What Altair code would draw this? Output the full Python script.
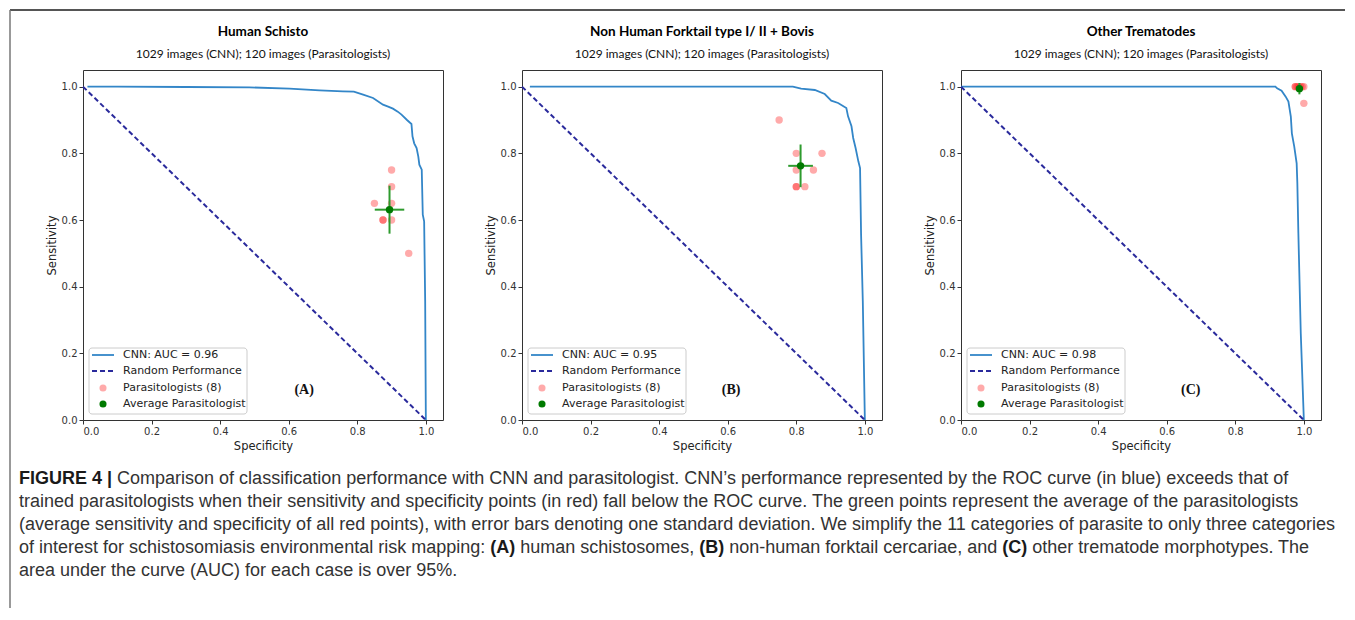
import altair as alt
import pandas as pd

# ---------------- data ----------------
panel_titles = ["Human Schisto", "Non Human Forktail type I/ II + Bovis", "Other Trematodes"]
panel_subtitle = "1029 images (CNN); 120 images (Parasitologists)"
panel_letters = ["(A)", "(B)", "(C)"]
letter_x = [0.645, 0.61, 0.67]
letter_y = [0.09, 0.09, 0.09]
auc_values = [0.96, 0.95, 0.98]
legend_labels = ["Random Performance", "Parasitologists (8)", "Average Parasitologist"]
tick_values = [0.0, 0.2, 0.4, 0.6, 0.8, 1.0]

roc_a_spec = [0.013, 0.10, 0.30, 0.485, 0.602, 0.69, 0.758, 0.79, 0.817, 0.846, 0.875, 0.89, 0.904,
              0.918, 0.929, 0.945, 0.958, 0.961, 0.966, 0.973, 0.978, 0.981, 0.988, 0.991, 0.995, 0.998, 1.0]
roc_a_sens = [1.0, 1.0, 0.999, 0.998, 0.994, 0.989, 0.986, 0.985, 0.976, 0.966, 0.946, 0.94, 0.934,
              0.925, 0.916, 0.90, 0.888, 0.851, 0.83, 0.816, 0.79, 0.766, 0.751, 0.616, 0.596, 0.357, 0.0]
roc_b_spec = [0.023, 0.30, 0.60, 0.79, 0.814, 0.854, 0.883, 0.902, 0.922, 0.946, 0.951, 0.961, 0.966,
              0.973, 0.981, 0.986, 0.989, 0.994, 1.0]
roc_b_sens = [1.0, 1.0, 1.0, 1.0, 0.994, 0.99, 0.978, 0.958, 0.951, 0.936, 0.911, 0.881, 0.846,
              0.816, 0.776, 0.756, 0.556, 0.357, 0.0]
roc_c_spec = [0.0, 0.30, 0.60, 0.917, 0.922, 0.935, 0.947, 0.955, 0.962, 0.965, 0.972, 0.979, 0.981,
              0.984, 0.991, 1.0]
roc_c_sens = [1.0, 1.0, 1.0, 1.0, 0.995, 0.988, 0.97, 0.955, 0.91, 0.86, 0.82, 0.77, 0.71,
              0.56, 0.26, 0.0]

par_a_spec = [0.90, 0.90, 0.85, 0.90, 0.875, 0.875, 0.90, 0.95]
par_a_sens = [0.75, 0.70, 0.65, 0.65, 0.60, 0.60, 0.60, 0.50]
par_b_spec = [0.75, 0.80, 0.875, 0.80, 0.85, 0.80, 0.80, 0.825]
par_b_sens = [0.90, 0.80, 0.80, 0.75, 0.75, 0.70, 0.70, 0.70]
par_c_spec = [0.975, 0.975, 0.98, 0.985, 0.99, 0.995, 1.0, 1.0]
par_c_sens = [1.0, 1.0, 1.0, 1.0, 1.0, 1.0, 1.0, 0.95]

avg_spec = [0.894, 0.8125, 0.987]
avg_sens = [0.631, 0.7625, 0.994]
sd_spec = [0.043, 0.036, 0.010]
sd_sens = [0.072, 0.064, 0.017]

random_spec = [0.0, 1.0]
random_sens = [1.0, 0.0]

caption_lines = [
    [("FIGURE 4 |", True), (" Comparison of classification performance with CNN and parasitologist. CNN\u2019s performance represented by the ROC curve (in blue) exceeds that of", False)],
    [("trained parasitologists when their sensitivity and specificity points (in red) fall below the ROC curve. The green points represent the average of the parasitologists", False)],
    [("(average sensitivity and specificity of all red points), with error bars denoting one standard deviation. We simplify the 11 categories of parasite to only three categories", False)],
    [("of interest for schistosomiasis environmental risk mapping: ", False), ("(A)", True), (" human schistosomes, ", False),
     ("(B)", True), (" non-human forktail cercariae, and ", False), ("(C)", True), (" other trematode morphotypes. The", False)],
    [("area under the curve (AUC) for each case is over 95%.", False)],
]

# ---------------- layout / style ----------------
W, H = 360, 350
SPACING = 79
CNN_BLUE = "#3386c8"
RAND_NAVY = "#2a2a9c"
ERR_GREEN = "#2e9b2e"
AVG_GREEN = "#007a00"
AX_FONT = "DejaVu Sans"
TITLE_FONT = "Lato"
CAP_FONT = "Liberation Sans"
CAP_SIZE = 18

# Helvetica/Arial advance widths (1/1000 em) used to place the bold caption fragments inline
_reg = {" ": 278, "!": 278, "(": 333, ")": 333, ",": 278, "-": 333, ".": 278, "/": 278, ":": 278,
        ";": 278, "%": 889, "\u2019": 222, "'": 191, "|": 260,
        "A": 667, "B": 667, "C": 722, "D": 722, "E": 667, "F": 611, "G": 778, "H": 722, "I": 278,
        "J": 500, "K": 667, "L": 556, "M": 833, "N": 722, "O": 778, "P": 667, "Q": 778, "R": 722,
        "S": 667, "T": 611, "U": 722, "V": 667, "W": 944, "X": 667, "Y": 667, "Z": 611,
        "a": 556, "b": 556, "c": 500, "d": 556, "e": 556, "f": 278, "g": 556, "h": 556, "i": 222,
        "j": 222, "k": 500, "l": 222, "m": 833, "n": 556, "o": 556, "p": 556, "q": 556, "r": 333,
        "s": 500, "t": 278, "u": 556, "v": 500, "w": 722, "x": 500, "y": 500, "z": 500}
_bold = {" ": 278, "(": 333, ")": 333, "|": 280, "A": 722, "B": 722, "C": 722, "E": 667, "F": 611,
         "G": 778, "I": 278, "R": 722, "U": 722}


def text_w(s, bold):
    tab = _bold if bold else _reg
    return sum(tab.get(ch, 556) for ch in s) * CAP_SIZE / 1000.0


dummy = pd.DataFrame({"d": [0]})

xs = alt.Scale(domain=[0, 1.05], nice=False, zero=False)
ys = alt.Scale(domain=[0, 1.05], nice=False, zero=False)
xax = alt.Axis(values=tick_values, format=".1f", title="Specificity")
yax = alt.Axis(values=tick_values, format=".1f", title="Sensitivity")


def X(f):
    return alt.X(f, type="quantitative", scale=xs, axis=xax)


def Y(f):
    return alt.Y(f, type="quantitative", scale=ys, axis=yax)


def ptext(t, px, py, **kw):
    return alt.Chart(dummy).mark_text(text=t, baseline="middle", **kw).encode(
        x=alt.value(px), y=alt.value(py))


def caption_and_frame():
    # coordinates are relative to panel A's plot origin
    layers = [
        alt.Chart(dummy).mark_rule(color="#555555", strokeWidth=2).encode(
            x=alt.value(-73), x2=alt.value(1262), y=alt.value(-60)),
        alt.Chart(dummy).mark_rule(color="#777777", strokeWidth=1.5).encode(
            x=alt.value(-73), y=alt.value(-60), y2=alt.value(538)),
    ]
    cap_x0 = -64
    cap_y = [409, 432, 455, 478, 501]
    for li, segs in enumerate(caption_lines):
        cx = cap_x0
        for t, bold in segs:
            lead = len(t) - len(t.lstrip(" "))
            cx += text_w(" " * lead, bold)
            body = t.strip(" ")
            layers.append(ptext(body, cx, cap_y[li], align="left", font=CAP_FONT, fontSize=CAP_SIZE,
                                fontWeight="bold" if bold else "normal",
                                color="#1a1a1a" if bold else "#333333"))
            cx += text_w(t.lstrip(" "), bold)
    return layers


def panel(i, roc_spec, roc_sens, p_spec, p_sens, extra=()):
    roc = pd.DataFrame({"spec": roc_spec, "sens": roc_sens, "ord": list(range(len(roc_spec)))})
    rnd = pd.DataFrame({"spec": random_spec, "sens": random_sens, "ord": [0, 1]})
    pts = pd.DataFrame({"spec": p_spec, "sens": p_sens})
    avg = pd.DataFrame({"spec": [avg_spec[i]], "sens": [avg_sens[i]],
                        "xlo": [avg_spec[i] - sd_spec[i]], "xhi": [avg_spec[i] + sd_spec[i]],
                        "ylo": [avg_sens[i] - sd_sens[i]], "yhi": [avg_sens[i] + sd_sens[i]]})
    let = pd.DataFrame({"spec": [letter_x[i]], "sens": [letter_y[i]], "t": [panel_letters[i]]})

    roc_line = alt.Chart(roc).mark_line(color=CNN_BLUE, strokeWidth=1.8).encode(
        x=X("spec"), y=Y("sens"), order="ord:Q")
    rnd_line = alt.Chart(rnd).mark_line(color=RAND_NAVY, strokeWidth=2, strokeDash=[5, 3]).encode(
        x=X("spec"), y=Y("sens"), order="ord:Q")
    red = alt.Chart(pts).mark_circle(color="#ff2020", opacity=0.38, size=55).encode(
        x=X("spec"), y=Y("sens"))
    errx = alt.Chart(avg).mark_rule(color=ERR_GREEN, strokeWidth=2).encode(
        x=X("xlo"), x2="xhi", y=Y("sens"))
    erry = alt.Chart(avg).mark_rule(color=ERR_GREEN, strokeWidth=2).encode(
        x=X("spec"), y=Y("ylo"), y2="yhi")
    green = alt.Chart(avg).mark_circle(color=AVG_GREEN, opacity=1, size=55).encode(
        x=X("spec"), y=Y("sens"))
    letter = alt.Chart(let).mark_text(font="Liberation Serif", fontWeight="bold", fontSize=14,
                                      color="#111").encode(x=X("spec"), y=Y("sens"), text="t:N")

    # panel titles (drawn as text so that the layout stays fixed)
    t1 = ptext(panel_titles[i], W / 2, -38, align="center", font=TITLE_FONT, fontSize=13.5,
               fontWeight="bold", color="#000")
    t2 = ptext(panel_subtitle, W / 2, -16, align="center", font=TITLE_FONT, fontSize=12, color="#111")

    # legend box (inside plot, lower left)
    lg_box = alt.Chart(dummy).mark_rect(fill="white", fillOpacity=0.85, stroke="#cccccc",
                                        strokeWidth=1, cornerRadius=3).encode(
        x=alt.value(6), x2=alt.value(164), y=alt.value(278), y2=alt.value(344))
    lg_l1 = alt.Chart(dummy).mark_rule(color=CNN_BLUE, strokeWidth=1.8).encode(
        x=alt.value(9), x2=alt.value(31), y=alt.value(285))
    lg_l2 = alt.Chart(dummy).mark_rule(color=RAND_NAVY, strokeWidth=2, strokeDash=[5, 3]).encode(
        x=alt.value(9), x2=alt.value(31), y=alt.value(301))
    lg_p1 = alt.Chart(dummy).mark_circle(color="#ff2020", opacity=0.38, size=50).encode(
        x=alt.value(20), y=alt.value(318))
    lg_p2 = alt.Chart(dummy).mark_circle(color=AVG_GREEN, opacity=1, size=50).encode(
        x=alt.value(20), y=alt.value(334))
    labels = [f"CNN: AUC = {auc_values[i]:.2f}"] + legend_labels
    lg_txt = [ptext(lab, 40, yy, align="left", font=AX_FONT, fontSize=11, color="#222")
              for lab, yy in zip(labels, [285, 301, 318, 334])]

    return alt.layer(roc_line, rnd_line, red, errx, erry, green, letter, t1, t2,
                     lg_box, lg_l1, lg_l2, lg_p1, lg_p2, *lg_txt, *extra).properties(width=W, height=H)


pA = panel(0, roc_a_spec, roc_a_sens, par_a_spec, par_a_sens, extra=caption_and_frame())
pB = panel(1, roc_b_spec, roc_b_sens, par_b_spec, par_b_sens)
pC = panel(2, roc_c_spec, roc_c_sens, par_c_spec, par_c_sens)

chart = alt.hconcat(pA, pB, pC, spacing=SPACING, bounds="flush").properties(
    padding=0, background="white"
).configure_view(stroke="#333333", strokeWidth=1).configure_axis(
    labelFont=AX_FONT, labelFontSize=10, labelColor="#333", tickColor="#333", tickSize=4,
    domain=False, grid=False, labelPadding=2, titleFont=AX_FONT, titleFontSize=11.5,
    titleFontWeight="normal", titleColor="#222", titlePadding=4)

chart.save("out.html", embed_options={"renderer": "svg", "actions": False})
